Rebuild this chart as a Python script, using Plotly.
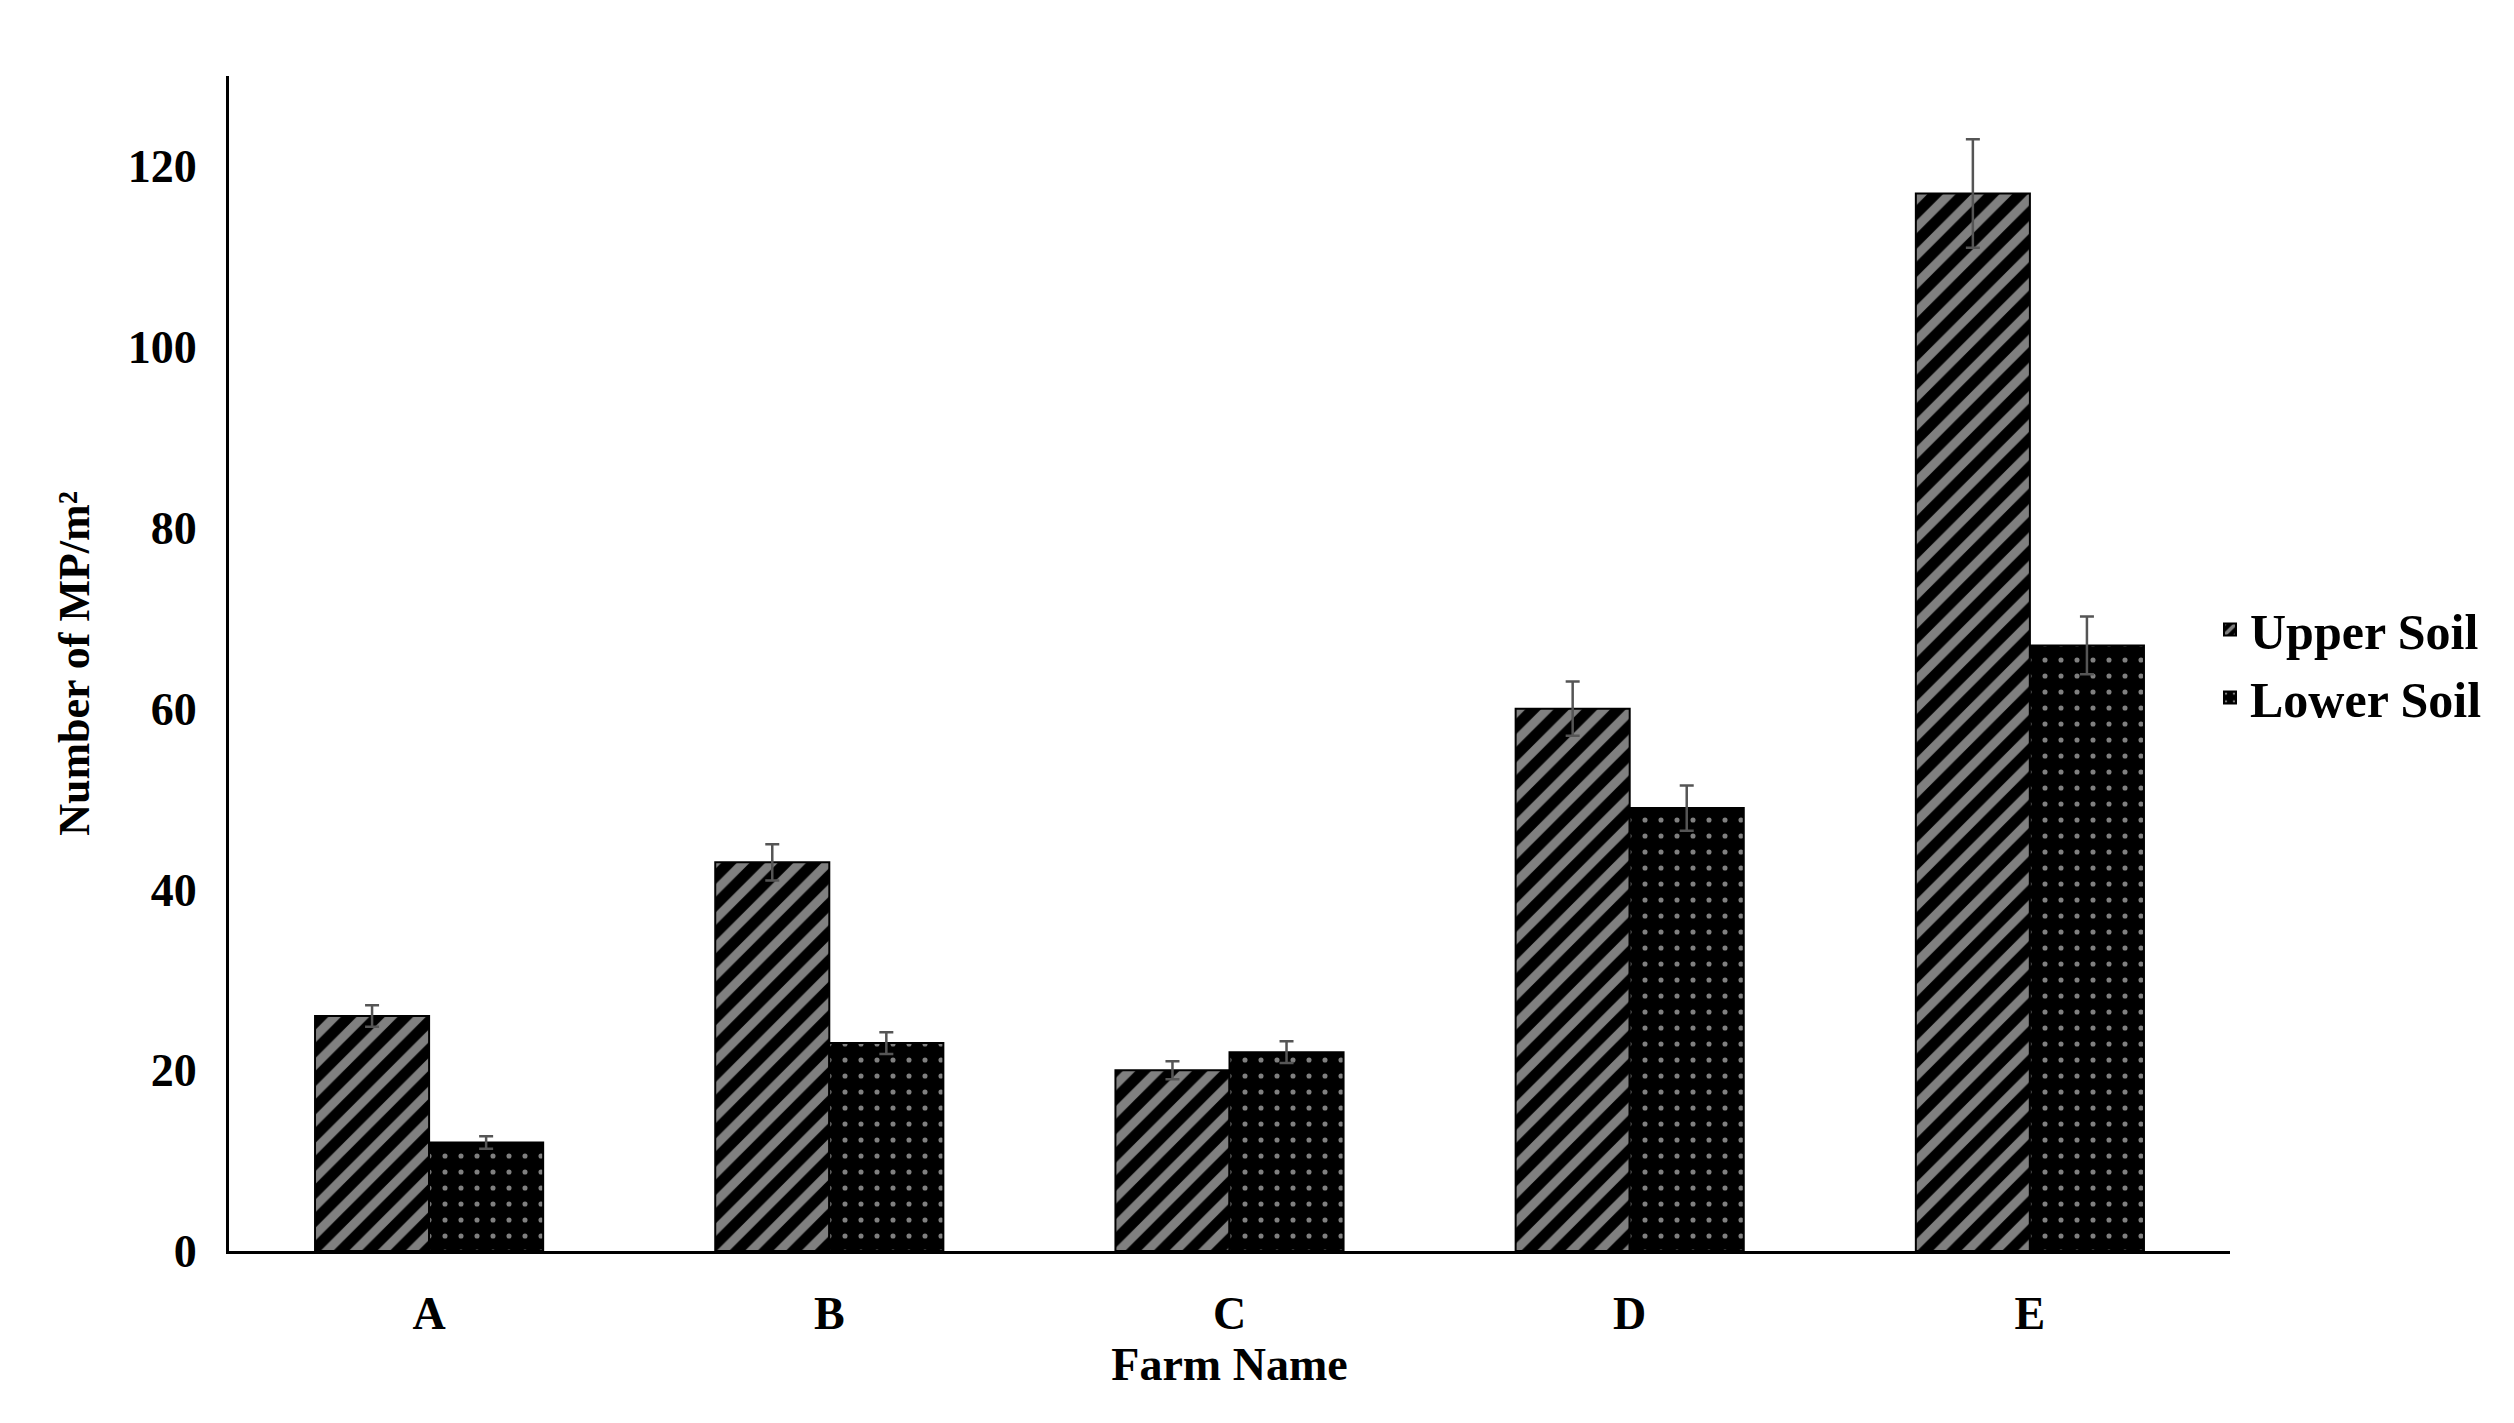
import plotly.graph_objects as go

farms = ["A", "B", "C", "D", "E"]
upper = [26, 43, 20, 60, 117]
upper_err = [1.2, 2.0, 1.0, 3.0, 6.0]
lower = [12, 23, 22, 49, 67]
lower_err = [0.7, 1.2, 1.2, 2.5, 3.2]

font = "Liberation Serif"
fig = go.Figure()
fig.add_bar(name="<b>Upper Soil</b>", x=farms, y=upper,
            error_y=dict(type="data", array=upper_err, color="#555555", thickness=2.5, width=7),
            marker=dict(color="black", line=dict(color="black", width=2),
                        pattern=dict(shape="/", fgcolor="white", bgcolor="black", size=20, solidity=0.45, fillmode="overlay")))
fig.add_bar(name="<b>Lower Soil</b>", x=farms, y=lower,
            error_y=dict(type="data", array=lower_err, color="#555555", thickness=2.5, width=7),
            marker=dict(color="black", line=dict(color="black", width=2),
                        pattern=dict(shape=".", fgcolor="white", bgcolor="black", size=16, solidity=0.08, fillmode="overlay")))
fig.update_layout(
    width=2514, height=1423, barmode="group", bargap=0.43, bargroupgap=0,
    plot_bgcolor="white", paper_bgcolor="white",
    margin=dict(l=221, r=292, t=68, b=180),
    font=dict(family=font, size=44, color="black"),
    legend=dict(x=0.99, y=0.5, yanchor="middle", font=dict(family=font, size=50, color="black", weight="bold"),
                itemwidth=30, tracegroupgap=30, itemsizing="constant"),
    xaxis=dict(title=dict(text="<b>Farm Name</b>", standoff=10, font=dict(size=46)),
               showline=True, linecolor="black", linewidth=3, ticks="",
               tickfont=dict(size=46, weight="bold"), ticklabelstandoff=20),
    yaxis=dict(title=dict(text="<b>Number of MP/m²</b>", standoff=25, font=dict(size=44)),
               range=[0, 130], tickvals=[0, 20, 40, 60, 80, 100, 120],
               showline=True, linecolor="black", linewidth=3, showgrid=False, ticks="",
               zeroline=False, tickfont=dict(size=46, weight="bold"), ticklabelstandoff=20),
)
fig.write_html("out.html")
